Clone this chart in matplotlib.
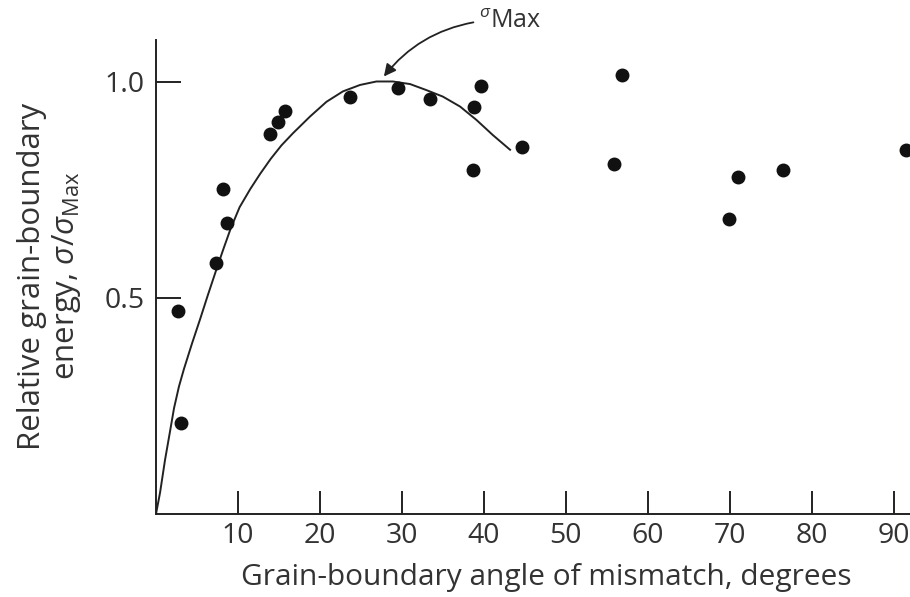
import matplotlib
matplotlib.use('Agg')
import matplotlib.pyplot as plt

plt.rcParams['font.family'] = ['Open Sans', 'DejaVu Sans']
plt.rcParams['mathtext.fontset'] = 'custom'
plt.rcParams['mathtext.rm'] = 'Open Sans'
plt.rcParams['mathtext.it'] = 'Open Sans:italic'

textcolor = '#333333'

# measured points: misorientation angle (deg) vs relative energy
angle = [2.7, 3.0, 7.3, 8.2, 8.7, 13.9, 14.9, 15.7, 23.7, 29.5, 33.4,
         38.8, 39.6, 38.7, 44.6, 55.9, 56.8, 69.9, 71.0, 76.5, 91.5]
energy = [0.470, 0.211, 0.581, 0.752, 0.674, 0.880, 0.907, 0.933, 0.965,
          0.986, 0.961, 0.942, 0.991, 0.796, 0.850, 0.810, 1.016, 0.683,
          0.780, 0.796, 0.843]

# fitted curve
curve_x = [0, 0.5, 1.1, 1.7, 2.2, 2.8, 3.4, 4.4, 5.4, 6.3, 7.3, 8.2, 9.1,
           10.2, 11.5, 12.7, 14.0, 15.3, 16.7, 18.8, 20.8, 22.8, 24.9, 26.9,
           28.9, 31.0, 33.0, 35.0, 37.1, 39.1, 41.1, 43.2]
curve_y = [0, 0.05, 0.125, 0.19, 0.245, 0.295, 0.335, 0.395, 0.452, 0.505,
           0.562, 0.612, 0.66, 0.71, 0.752, 0.787, 0.822, 0.853, 0.881, 0.92,
           0.954, 0.978, 0.993, 1.001, 1.001, 0.995, 0.981, 0.966, 0.943,
           0.912, 0.877, 0.843]

xticks = [10, 20, 30, 40, 50, 60, 70, 80, 90]
yticks = [0.5, 1.0]

fig = plt.figure(figsize=(9.1, 5.97), dpi=100)
ax = fig.add_axes([156 / 910, 83 / 597, 754 / 910, 474 / 597])

ax.plot(curve_x, curve_y, color='#222222', lw=1.4)
ax.plot(angle, energy, 'o', color='#111111', ms=9, clip_on=False)

ax.set_xlim(0, 92)
ax.set_ylim(0, 1.097)
ax.set_xticks(xticks)
ax.set_xticklabels([str(t) for t in xticks])
ax.set_yticks(yticks)
ax.set_yticklabels(['0.5', '1.0'])

ax.spines['top'].set_visible(False)
ax.spines['right'].set_visible(False)
for s in ['left', 'bottom']:
    ax.spines[s].set_linewidth(1.4)
    ax.spines[s].set_color('#222222')

ax.tick_params(axis='both', direction='in', width=1.4, color='#222222',
               labelsize=20.5, labelcolor=textcolor)
ax.tick_params(axis='x', length=16.5, pad=6)
ax.tick_params(axis='y', length=18, pad=8)

ax.set_xlabel('Grain-boundary angle of mismatch, degrees', fontsize=21.5,
              color=textcolor, va='center')
ax.xaxis.set_label_coords(0.517, -0.135)

fig.text(50 / 910, 1 - 276 / 597,
         'Relative grain-boundary\nenergy, $\\sigma/\\sigma_{\\mathrm{Max}}$',
         rotation=90, ha='center', va='center', multialignment='center',
         fontsize=22.5, color=textcolor, linespacing=1.12)

ax.annotate('$^{\\sigma}$Max', xy=(27.7, 1.01), xytext=(39.4, 1.14),
            textcoords='data', annotation_clip=False, fontsize=18,
            color=textcolor, ha='left', va='center',
            arrowprops=dict(arrowstyle='-|>', color='#222222', lw=1.3,
                            connectionstyle='arc3,rad=0.2', relpos=(0, 0.5),
                            shrinkA=2, shrinkB=1, mutation_scale=18))

fig.savefig('out.png', dpi=100)
